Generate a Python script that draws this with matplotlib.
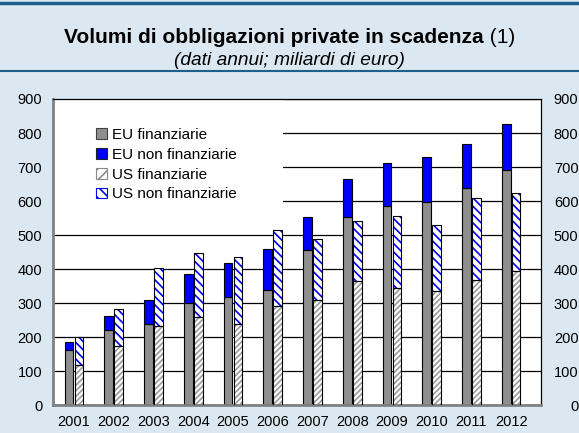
import matplotlib.pyplot as plt
from matplotlib.patches import Patch, Rectangle
from matplotlib.lines import Line2D
import numpy as np

plt.rcParams["font.family"] = ["Liberation Sans", "DejaVu Sans"]
plt.rcParams["hatch.linewidth"] = 1.2

# Volumi in scadenza (miliardi di euro)
years = ["2001", "2002", "2003", "2004", "2005", "2006",
         "2007", "2008", "2009", "2010", "2011", "2012"]
eu_fin = [163, 220, 240, 301, 318, 339, 456, 552, 587, 596, 639, 692]
eu_nonfin = [22, 43, 68, 85, 100, 121, 98, 114, 125, 133, 128, 134]
us_fin = [118, 175, 233, 258, 239, 291, 308, 364, 346, 335, 367, 396]
us_nonfin = [84, 107, 170, 188, 198, 223, 180, 177, 210, 194, 241, 227]

labels = ["EU finanziarie", "EU non finanziarie",
          "US finanziarie", "US non finanziarie"]

BG = "#dce8f1"
DARK = "#1f5f8c"
GREY = "#8f8f8f"
BLUE = "#0000ff"

fig = plt.figure(figsize=(5.79, 4.33), dpi=100, facecolor=BG)
ax = fig.add_axes([0.092, 0.064, 0.8423, 0.7074])
ax.set_facecolor("white")

# linee dell'intestazione
fig.add_artist(Line2D([0, 1], [0.994, 0.994], color=DARK, lw=2.5))
fig.add_artist(Line2D([0, 1], [0.836, 0.836], color=DARK, lw=1.5))

t1 = fig.text(0.5, 0.913, "Volumi di obbligazioni private in scadenza",
              fontsize=15, fontweight="bold", ha="left", va="center")
t2 = fig.text(0.5, 0.913, " (1)", fontsize=15, ha="left", va="center")
r = fig.canvas.get_renderer()
w1 = t1.get_window_extent(r).width / fig.bbox.width
w2 = t2.get_window_extent(r).width / fig.bbox.width
t1.set_x(0.5 - (w1 + w2) / 2)
t2.set_x(0.5 - (w1 + w2) / 2 + w1)
fig.text(0.5, 0.861, "(dati annui; miliardi di euro)", fontsize=13.8,
         style="italic", ha="center", va="center")

x = np.arange(len(years))
w = 0.22
off = 0.125

ax.bar(x - off, eu_fin, w, color=GREY, edgecolor="black", lw=0.8, zorder=2)
ax.bar(x - off, eu_nonfin, w, bottom=eu_fin, color=BLUE,
       edgecolor="black", lw=0.8, zorder=2)

ax.bar(x + off, us_fin, w, color="white", edgecolor="#9a9a9a",
       hatch="//////", lw=0, zorder=2)
ax.bar(x + off, us_nonfin, w, bottom=us_fin, color="white",
       edgecolor=BLUE, hatch="\\\\\\\\", lw=0, zorder=2)
ax.bar(x + off, us_fin, w, fill=False, edgecolor="black", lw=0.8, zorder=3)
ax.bar(x + off, us_nonfin, w, bottom=us_fin, fill=False,
       edgecolor="black", lw=0.8, zorder=3)

ax.set_xlim(-0.52, 11.75)
ax.set_ylim(0, 900)
ax.set_yticks(range(0, 901, 100))
ax.set_xticks(x)
ax.set_xticklabels(years)
ax.tick_params(axis="both", length=0, labelsize=10.5)
ax.tick_params(axis="y", pad=8)
ax.tick_params(axis="x", pad=7)

ax.set_axisbelow(True)
ax.yaxis.grid(True, color="black", lw=0.9)
# zona bianca della legenda che copre la griglia
ax.add_patch(Rectangle((0, 0.6), 0.471, 0.4, transform=ax.transAxes,
                       facecolor="white", edgecolor="none", zorder=0.8))

for s in ["left", "bottom"]:
    ax.spines[s].set_color("#808080")
    ax.spines[s].set_linewidth(2)
for s in ["top", "right"]:
    ax.spines[s].set_color("black")
    ax.spines[s].set_linewidth(0.9)

ax2 = ax.twinx()
ax2.set_ylim(0, 900)
ax2.set_yticks(range(0, 901, 100))
ax2.tick_params(axis="y", length=0, labelsize=10.5, pad=27)
for lbl in ax2.get_yticklabels():
    lbl.set_horizontalalignment("right")
for s in ax2.spines.values():
    s.set_visible(False)

handles = [
    Patch(facecolor=GREY, edgecolor="#404040", lw=0.8),
    Patch(facecolor=BLUE, edgecolor="#202020", lw=0.8),
    Patch(facecolor="white", edgecolor="#8a8a8a", hatch="///", lw=0.8),
    Patch(facecolor="white", edgecolor=BLUE, hatch="\\\\\\", lw=0.8),
]
ax.legend(handles, labels, loc="upper left", bbox_to_anchor=(0.076, 0.925),
          frameon=False, fontsize=11, handlelength=0.7, handleheight=0.7,
          handletextpad=0.3, labelspacing=0.38, borderaxespad=0)

fig.savefig("out.png", dpi=100, facecolor=BG)
